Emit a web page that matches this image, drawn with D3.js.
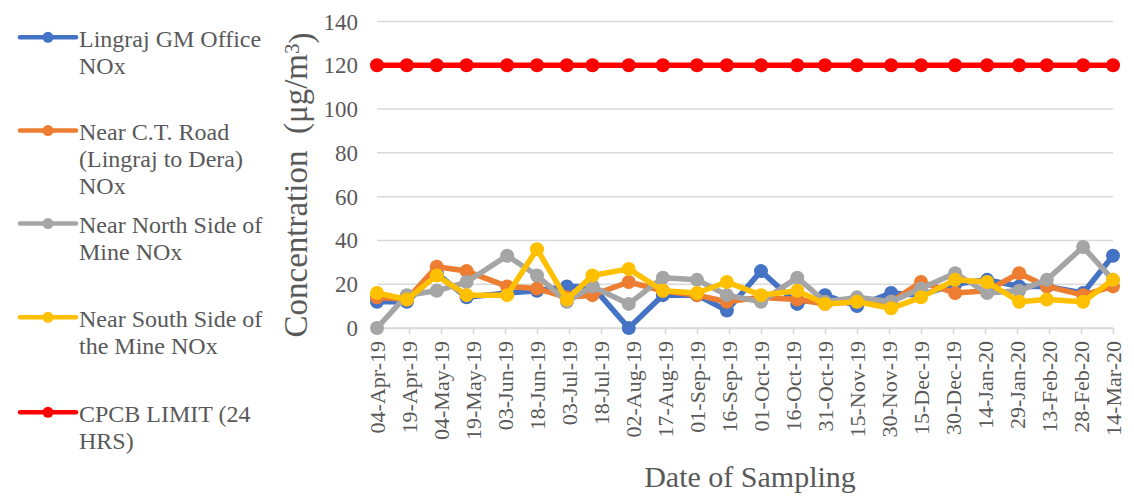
<!DOCTYPE html>
<html>
<head>
<meta charset="utf-8">
<script src="https://cdn.jsdelivr.net/npm/d3@7"></script>
<style>
  body { margin: 0; background: #fff; }
</style>
</head>
<body>
<script>
// sampling dates
var sampleDates = ["2019-04-04", "2019-04-18", "2019-05-02", "2019-05-16", "2019-06-04", "2019-06-18",
    "2019-07-02", "2019-07-14", "2019-07-31", "2019-08-16", "2019-09-01", "2019-09-15",
    "2019-10-01", "2019-10-18", "2019-10-31", "2019-11-15", "2019-12-01", "2019-12-15",
    "2019-12-31", "2020-01-15", "2020-01-30", "2020-02-12", "2020-02-29", "2020-03-14"];

var tickLabels = ["04-Apr-19", "19-Apr-19", "04-May-19", "19-May-19", "03-Jun-19", "18-Jun-19",
    "03-Jul-19", "18-Jul-19", "02-Aug-19", "17-Aug-19", "01-Sep-19", "16-Sep-19",
    "01-Oct-19", "16-Oct-19", "31-Oct-19", "15-Nov-19", "30-Nov-19", "15-Dec-19",
    "30-Dec-19", "14-Jan-20", "29-Jan-20", "13-Feb-20", "28-Feb-20", "14-Mar-20"];

var yTicks = [0, 20, 40, 60, 80, 100, 120, 140];

var lingrajValues = [12, 12, 25, 14, 16, 17, 19, 19, 0, 15, 15, 8, 26, 11, 15, 10, 16, 15, 20, 22, 19, 19, 16, 33];
var ctRoadValues  = [14, 13, 28, 26, 19, 18, 14, 15, 21, 17, 15, 12, 14, 13, 11, 12, 12, 21, 16, 17, 25, 19, 15, 19];
var northValues   = [0, 15, 17, 21, 33, 24, 12, 19, 11, 23, 22, 15, 12, 23, 12, 14, 12, 18, 25, 16, 17, 22, 37, 22];
var southValues   = [16, 13, 24, 15, 15, 36, 13, 24, 27, 17, 16, 21, 15, 17, 11, 12, 9, 14, 22, 21, 12, 13, 12, 22];
var cpcbValues    = [120, 120, 120, 120, 120, 120, 120, 120, 120, 120, 120, 120,
                     120, 120, 120, 120, 120, 120, 120, 120, 120, 120, 120, 120];

var seriesNames = [
    ["Lingraj GM Office", "NOx"],
    ["Near C.T. Road", "(Lingraj to Dera)", "NOx"],
    ["Near North Side of", "Mine NOx"],
    ["Near South Side of", "the Mine NOx"],
    ["CPCB LIMIT (24", "HRS)"]
];
var seriesColors = ["#4472C4", "#ED7D31", "#A5A5A5", "#FFC000", "#FF0000"];
var seriesValues = [lingrajValues, ctRoadValues, northValues, southValues, cpcbValues];

var width = 1134, height = 497;
var plot = { left: 377, right: 1113, top: 21.5, bottom: 328 };
var font = "'Liberation Serif', 'Times New Roman', serif";
var textColor = "#595959";

var parseDate = d3.timeParse("%Y-%m-%d");
var parseTick = d3.timeParse("%d-%b-%y");
var dates = sampleDates.map(parseDate);
var tickDates = tickLabels.map(parseTick);

var x = d3.scaleTime()
    .domain([tickDates[0], tickDates[tickDates.length - 1]])
    .range([plot.left, plot.right]);
var y = d3.scaleLinear().domain([0, 140]).range([plot.bottom, plot.top]);

var svg = d3.select("body").append("svg")
    .attr("width", width)
    .attr("height", height)
    .style("font-family", font);

// gridlines
svg.append("g")
    .selectAll("line")
    .data(yTicks)
    .enter()
    .append("line")
    .attr("x1", plot.left)
    .attr("x2", plot.right)
    .attr("y1", function(d) { return y(d); })
    .attr("y2", function(d) { return y(d); })
    .attr("stroke", "#d9d9d9")
    .attr("stroke-width", 1.5);

// y tick labels
svg.append("g")
    .selectAll("text")
    .data(yTicks)
    .enter()
    .append("text")
    .attr("x", 358)
    .attr("y", function(d) { return y(d); })
    .attr("dy", "0.35em")
    .attr("text-anchor", "end")
    .attr("fill", textColor)
    .style("font-family", font)
    .style("font-size", "23px")
    .text(function(d) { return d; });

// x axis
var xAxis = svg.append("g")
    .attr("transform", "translate(0," + plot.bottom + ")")
    .call(d3.axisBottom(x)
        .tickValues(tickDates)
        .tickFormat(d3.timeFormat("%d-%b-%y"))
        .tickSize(6)
        .tickPadding(0));
xAxis.attr("font-family", null).attr("font-size", null);
xAxis.select(".domain").attr("stroke", "#d9d9d9").attr("stroke-width", 1.5);
xAxis.selectAll(".tick line").attr("stroke", "#d9d9d9").attr("stroke-width", 1.5);
xAxis.selectAll(".tick text")
    .attr("fill", textColor)
    .style("font-family", font)
    .style("font-size", "22px")
    .attr("text-anchor", "end")
    .attr("transform", "translate(7,13) rotate(-90)")
    .attr("x", 0)
    .attr("y", 0)
    .attr("dy", "0");

// series lines + markers
var line = d3.line()
    .x(function(d, i) { return x(dates[i]); })
    .y(function(d) { return y(d); });

seriesValues.forEach(function(vals, s) {
    var g = svg.append("g");
    g.append("path")
        .datum(vals)
        .attr("d", line)
        .attr("fill", "none")
        .attr("stroke", seriesColors[s])
        .attr("stroke-width", 5.5)
        .attr("stroke-linejoin", "round");
    g.selectAll("circle")
        .data(vals)
        .enter()
        .append("circle")
        .attr("cx", function(d, i) { return x(dates[i]); })
        .attr("cy", function(d) { return y(d); })
        .attr("r", 7)
        .attr("fill", seriesColors[s]);
});

// legend
var legendTops = [46.7, 140, 233, 326.7, 421.7];
var legend = svg.append("g");
seriesNames.forEach(function(lines, s) {
    var ly = legendTops[s] - 9.4;
    legend.append("line")
        .attr("x1", 20).attr("x2", 76)
        .attr("y1", ly).attr("y2", ly)
        .attr("stroke", seriesColors[s])
        .attr("stroke-width", 4.5)
        .attr("stroke-linecap", "round");
    legend.append("circle")
        .attr("cx", 48).attr("cy", ly).attr("r", 5.5)
        .attr("fill", seriesColors[s]);
    var t = legend.append("text")
        .attr("x", 79)
        .attr("y", legendTops[s])
        .attr("fill", textColor)
        .style("font-family", font)
        .style("font-size", "24px");
    t.selectAll("tspan")
        .data(lines)
        .enter()
        .append("tspan")
        .attr("x", 79)
        .attr("dy", function(d, i) { return i == 0 ? 0 : 27; })
        .text(function(d) { return d; });
});

// axis titles
var yTitle = svg.append("text")
    .attr("transform", "translate(307,185) rotate(-90)")
    .attr("text-anchor", "middle")
    .attr("fill", textColor)
    .style("font-family", font)
    .style("font-size", "33px")
    .style("white-space", "pre");
yTitle.append("tspan").text("Concentration  (μg/m");
yTitle.append("tspan").attr("dy", "-0.4em").style("font-size", "21px").text("3");
yTitle.append("tspan").attr("dy", "0.4em").text(")");

svg.append("text")
    .attr("x", 750)
    .attr("y", 487)
    .attr("text-anchor", "middle")
    .attr("fill", textColor)
    .style("font-family", font)
    .style("font-size", "30px")
    .text("Date of Sampling");
</script>
</body>
</html>
